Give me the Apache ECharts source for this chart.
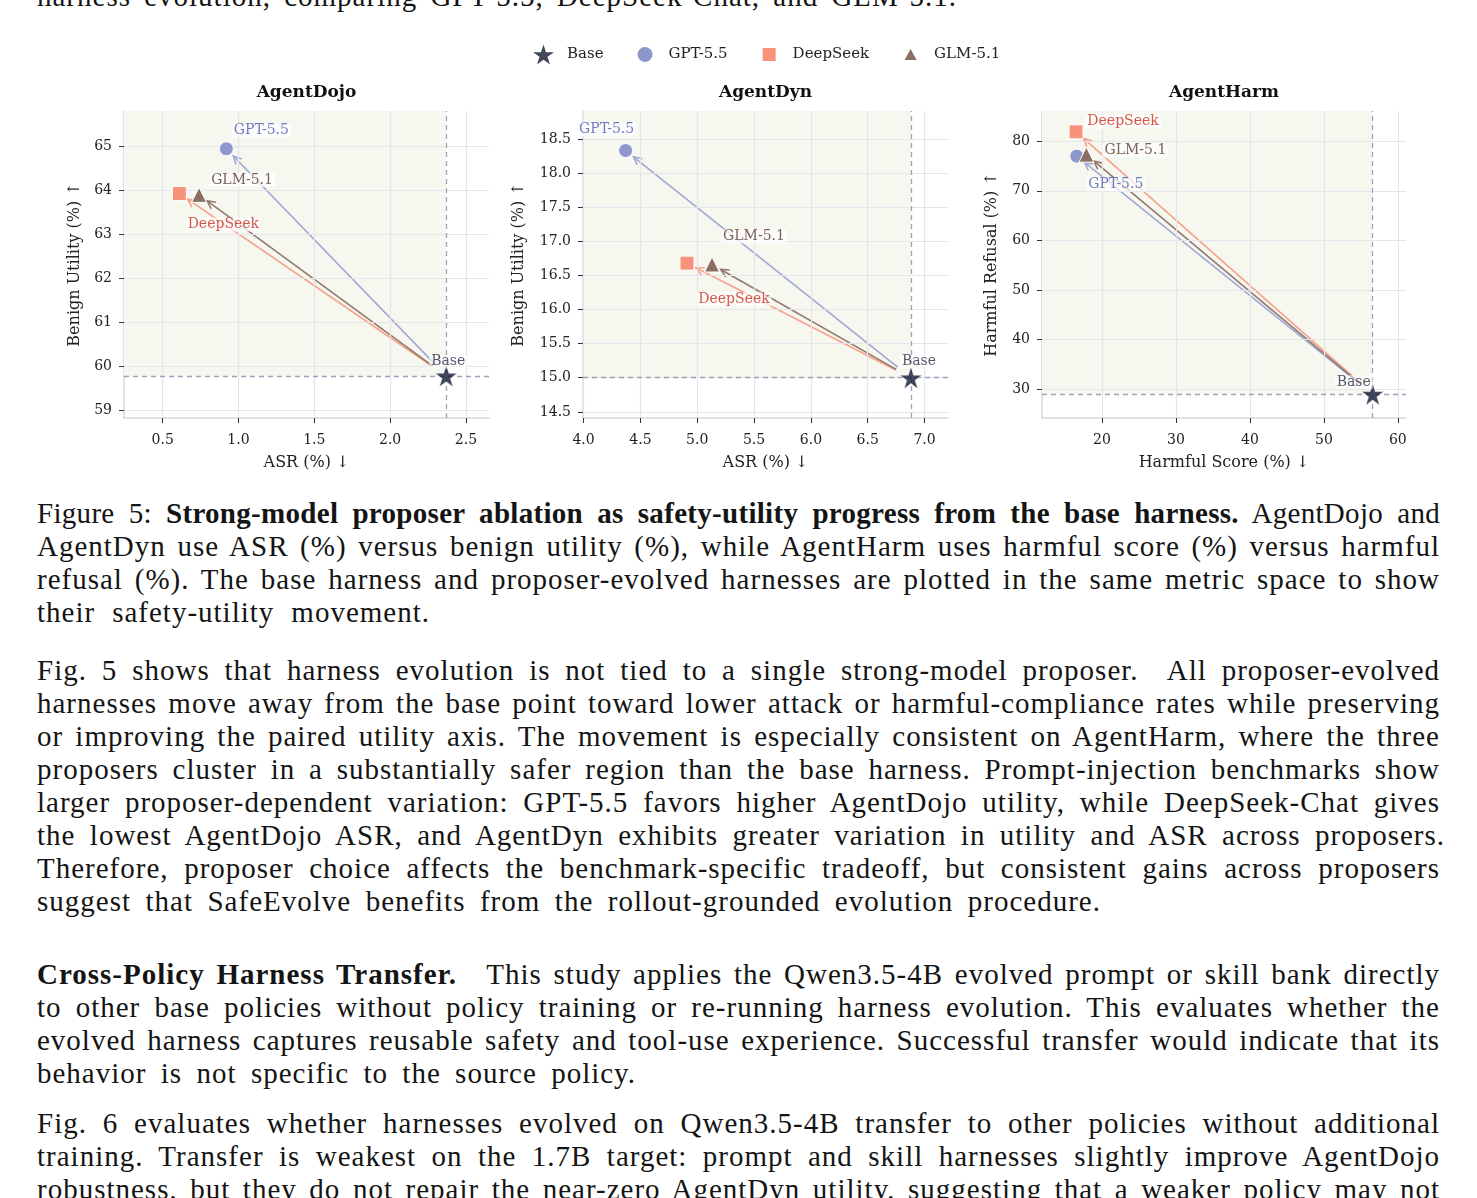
<!DOCTYPE html>
<html>
<head>
<meta charset="utf-8">
<script src="https://cdn.jsdelivr.net/npm/echarts@6/dist/echarts.min.js"></script>
<style>
html,body{margin:0;padding:0;background:#fff;width:1477px;height:1198px;overflow:hidden;position:relative;}
#chart{position:absolute;left:0;top:0;width:1477px;height:490px;}
.ln{position:absolute;left:37px;width:1403px;font-family:"Liberation Serif","Times New Roman",serif;font-size:29px;letter-spacing:1px;line-height:33px;height:33px;text-align:justify;text-align-last:justify;color:#141414;overflow:visible;}
.sp{display:inline-block;width:18px;}
</style>
</head>
<body>
<div class="ln" style="top:-20px;width:920px;">harness evolution, comparing GPT-5.5, DeepSeek-Chat, and GLM-5.1.</div>
<div id="chart"></div>

<div class="ln" style="top:497px;letter-spacing:0.3px;">Figure 5: <b>Strong-model proposer ablation as safety-utility progress from the base harness.</b> AgentDojo and</div>
<div class="ln" style="top:530px;">AgentDyn use ASR (%) versus benign utility (%), while AgentHarm uses harmful score (%) versus harmful</div>
<div class="ln" style="top:563px;">refusal (%). The base harness and proposer-evolved harnesses are plotted in the same metric space to show</div>
<div class="ln" style="top:596px;width:393px;">their safety-utility movement.</div>

<div class="ln" style="top:654px;">Fig. 5 shows that harness evolution is not tied to a single strong-model proposer.&nbsp; All proposer-evolved</div>
<div class="ln" style="top:687px;">harnesses move away from the base point toward lower attack or harmful-compliance rates while preserving</div>
<div class="ln" style="top:720px;">or improving the paired utility axis. The movement is especially consistent on AgentHarm, where the three</div>
<div class="ln" style="top:753px;">proposers cluster in a substantially safer region than the base harness. Prompt-injection benchmarks show</div>
<div class="ln" style="top:786px;">larger proposer-dependent variation: GPT-5.5 favors higher AgentDojo utility, while DeepSeek-Chat gives</div>
<div class="ln" style="top:819px;width:1408px;">the lowest AgentDojo ASR, and AgentDyn exhibits greater variation in utility and ASR across proposers.</div>
<div class="ln" style="top:852px;">Therefore, proposer choice affects the benchmark-specific tradeoff, but consistent gains across proposers</div>
<div class="ln" style="top:885px;width:1064px;">suggest that SafeEvolve benefits from the rollout-grounded evolution procedure.</div>

<div class="ln" style="top:958px;"><b>Cross-Policy Harness Transfer.</b><span class="sp"></span> This study applies the Qwen3.5-4B evolved prompt or skill bank directly</div>
<div class="ln" style="top:991px;">to other base policies without policy training or re-running harness evolution. This evaluates whether the</div>
<div class="ln" style="top:1024px;">evolved harness captures reusable safety and tool-use experience. Successful transfer would indicate that its</div>
<div class="ln" style="top:1057px;width:599px;">behavior is not specific to the source policy.</div>

<div class="ln" style="top:1107px;">Fig. 6 evaluates whether harnesses evolved on Qwen3.5-4B transfer to other policies without additional</div>
<div class="ln" style="top:1140px;">training. Transfer is weakest on the 1.7B target: prompt and skill harnesses slightly improve AgentDojo</div>
<div class="ln" style="top:1173px;">robustness, but they do not repair the near-zero AgentDyn utility, suggesting that a weaker policy may not</div>

<script>
// ---------------- DATA ----------------
const benchmarks = ['AgentDojo', 'AgentDyn', 'AgentHarm'];
const proposers = ['GPT-5.5', 'DeepSeek', 'GLM-5.1'];
const legendNames = ['Base', 'GPT-5.5', 'DeepSeek', 'GLM-5.1'];
const xAxisNames = ['ASR (%) \u2193', 'ASR (%) \u2193', 'Harmful Score (%) \u2193'];
const yAxisNames = ['Benign Utility (%) \u2191', 'Benign Utility (%) \u2191', 'Harmful Refusal (%) \u2191'];

const baseX = [2.37, 6.88, 56.6];
const baseY = [59.78, 15.0, 29.0];
const gptX = [0.92, 4.37, 16.6];
const gptY = [64.95, 18.33, 77.0];
const deepseekX = [0.61, 4.91, 16.5];
const deepseekY = [63.93, 16.68, 81.9];
const glmX = [0.74, 5.13, 17.9];
const glmY = [63.90, 16.66, 77.3];

const xMin = [0.245, 3.995, 11.9];
const xMax = [2.652, 7.206, 61.1];
const yMin = [58.82, 14.41, 24.2];
const yMax = [65.81, 18.91, 86.1];

const xTicks = [[0.5, 1.0, 1.5, 2.0, 2.5], [4.0, 4.5, 5.0, 5.5, 6.0, 6.5, 7.0], [20, 30, 40, 50, 60]];
const yTicks = [[59, 60, 61, 62, 63, 64, 65], [14.5, 15.0, 15.5, 16.0, 16.5, 17.0, 17.5, 18.0, 18.5], [30, 40, 50, 60, 70, 80]];
const xDec = [1, 1, 0];
const yDec = [0, 1, 0];

// ---------------- STYLE ----------------
const FONT = 'DejaVu Serif';
const markerColor = {'GPT-5.5': '#8e97cc', 'DeepSeek': '#f7937b', 'GLM-5.1': '#8b6e62', 'Base': '#131a32'};
const arrowColor = {'GPT-5.5': '#a0a8d8', 'DeepSeek': '#f6a18b', 'GLM-5.1': '#927970'};
const labelColor = {'GPT-5.5': '#6f7bc0', 'DeepSeek': '#d4574b', 'GLM-5.1': '#7b6057', 'Base': '#2b2f47'};
const symbolOf = {'GPT-5.5': 'circle', 'DeepSeek': 'rect', 'GLM-5.1': 'triangle'};
const sizeOf = {'GPT-5.5': 14, 'DeepSeek': 14, 'GLM-5.1': 15};
const STAR = 'path://M0,-10 L2.245,-3.09 L9.511,-3.09 L3.633,1.18 L5.878,8.09 L0,3.82 L-5.878,8.09 L-3.633,1.18 L-9.511,-3.09 L-2.245,-3.09 Z';
// legend icons padded inside a 21px box (first two moves define the box)
const legendIcon = {
  'Base': STAR,
  'GPT-5.5': 'path://M-10.5,-10.5 L-10.5,-10.5 M10.5,10.5 L10.5,10.5 M7.5,0 A7.5,7.5 0 1 1 -7.5,0 A7.5,7.5 0 1 1 7.5,0 Z',
  'DeepSeek': 'path://M-10.5,-10.5 L-10.5,-10.5 M10.5,10.5 L10.5,10.5 M-6.5,-6.5 L6.5,-6.5 L6.5,6.5 L-6.5,6.5 Z',
  'GLM-5.1': 'path://M-10.5,-10.5 L-10.5,-10.5 M10.5,10.5 L10.5,10.5 M0,-5.5 L6,5.5 L-6,5.5 Z'
};

// label offsets (pixels) per panel
const labelOffsets = [
  {'GPT-5.5': [35, -18], 'DeepSeek': [44, 31], 'GLM-5.1': [43, -15], 'Base': [2, -14]},
  {'GPT-5.5': [-19, -21], 'DeepSeek': [47, 36], 'GLM-5.1': [42, -28], 'Base': [8, -16]},
  {'GPT-5.5': [39, 28], 'DeepSeek': [47, -10], 'GLM-5.1': [49, -4], 'Base': [-19, -12]}
];
const gridBoxes = [
  {left: 124, top: 111, width: 365, height: 307},
  {left: 583, top: 111, width: 365, height: 307},
  {left: 1042, top: 111, width: 364, height: 307}
];
const yNameGap = [41, 56, 42];

const pointsX = {'GPT-5.5': gptX, 'DeepSeek': deepseekX, 'GLM-5.1': glmX};
const pointsY = {'GPT-5.5': gptY, 'DeepSeek': deepseekY, 'GLM-5.1': glmY};

const chart = echarts.init(document.getElementById('chart'), null, {renderer: 'canvas'});

const grids = [], xAxes = [], yAxes = [], titles = [], series = [];

benchmarks.forEach((b, i) => {
  const g = gridBoxes[i];
  grids.push({left: g.left, top: g.top, width: g.width, height: g.height, containLabel: false});
  titles.push({
    text: b, left: g.left + g.width / 2, top: 84, textAlign: 'center', padding: 0,
    textStyle: {fontFamily: FONT, fontWeight: 'bold', fontSize: 17, color: '#111'}
  });
  xAxes.push({
    type: 'value', gridIndex: i, min: xMin[i], max: xMax[i],
    name: xAxisNames[i], nameLocation: 'middle', nameGap: 37,
    nameTextStyle: {fontFamily: FONT, fontSize: 16, color: '#222'},
    axisLine: {show: true, onZero: false, lineStyle: {color: '#d6d8e1', width: 1.5}},
    axisTick: {show: true, customValues: xTicks[i], length: 5, lineStyle: {color: '#333', width: 1}},
    axisLabel: {customValues: xTicks[i], margin: 15, fontFamily: FONT, fontSize: 14, color: '#222',
      formatter: v => Number(v).toFixed(xDec[i])},
    splitLine: {show: false}
  });
  yAxes.push({
    type: 'value', gridIndex: i, min: yMin[i], max: yMax[i],
    name: yAxisNames[i], nameLocation: 'middle', nameGap: yNameGap[i], nameRotate: 90,
    nameTextStyle: {fontFamily: FONT, fontSize: 16, color: '#222'},
    axisLine: {show: true, onZero: false, lineStyle: {color: '#d6d8e1', width: 1.5}},
    axisTick: {show: true, customValues: yTicks[i], length: 5, lineStyle: {color: '#333', width: 1}},
    axisLabel: {customValues: yTicks[i], margin: 12, fontFamily: FONT, fontSize: 14, color: '#222',
      formatter: v => Number(v).toFixed(yDec[i])},
    splitLine: {show: false}
  });

  // shaded "better" region
  series.push({
    type: 'scatter', xAxisIndex: i, yAxisIndex: i, data: [[baseX[i], baseY[i]]], symbolSize: 0, silent: true, z: 1,
    markArea: {silent: true, itemStyle: {color: '#f6f7ee'},
      data: [[{xAxis: xMin[i], yAxis: baseY[i]}, {xAxis: baseX[i], yAxis: yMax[i]}]]}
  });
  // grid lines
  series.push({
    type: 'scatter', xAxisIndex: i, yAxisIndex: i, data: [[baseX[i], baseY[i]]], symbolSize: 0, silent: true, z: 2,
    markLine: {silent: true, symbol: ['none', 'none'], animation: false, label: {show: false},
      lineStyle: {color: '#e3e4ec', width: 1.2, type: 'solid'},
      data: xTicks[i].map(v => ({xAxis: v})).concat(yTicks[i].map(v => ({yAxis: v})))}
  });
  // dashed base reference lines
  series.push({
    type: 'scatter', xAxisIndex: i, yAxisIndex: i, data: [[baseX[i], baseY[i]]], symbolSize: 0, silent: true, z: 3,
    markLine: {silent: true, symbol: ['none', 'none'], animation: false, label: {show: false},
      lineStyle: {color: '#9da2b6', width: 1.3, type: [5, 4]},
      data: [{xAxis: baseX[i]}, {yAxis: baseY[i]}]}
  });
  // arrows from base to proposers
  series.push({
    type: 'custom', xAxisIndex: i, yAxisIndex: i, z: 4, silent: true,
    encode: {x: [0, 2], y: [1, 3]},
    data: proposers.map(p => [baseX[i], baseY[i], pointsX[p][i], pointsY[p][i]]),
    renderItem: function (params, api) {
      const p = proposers[params.dataIndex];
      const p0 = api.coord([api.value(0), api.value(1)]);
      const p1 = api.coord([api.value(2), api.value(3)]);
      const dx = p1[0] - p0[0], dy = p1[1] - p0[1];
      const L = Math.hypot(dx, dy);
      const ux = dx / L, uy = dy / L;
      const sA = 17, sB = 10, hl = 8, hw = 4;
      const s = [p0[0] + ux * sA, p0[1] + uy * sA];
      const e = [p1[0] - ux * sB, p1[1] - uy * sB];
      const a1 = [e[0] - ux * hl - uy * hw, e[1] - uy * hl + ux * hw];
      const a2 = [e[0] - ux * hl + uy * hw, e[1] - uy * hl - ux * hw];
      const col = arrowColor[p];
      return {
        type: 'group', children: [
          {type: 'line', shape: {x1: s[0], y1: s[1], x2: e[0], y2: e[1]}, style: {stroke: col, lineWidth: 1.6}},
          {type: 'polyline', shape: {points: [a1, e, a2]}, style: {stroke: col, lineWidth: 1.6, fill: null}}
        ]
      };
    }
  });
  // proposer markers
  proposers.forEach((p, k) => {
    series.push({
      type: 'scatter', name: p, xAxisIndex: i, yAxisIndex: i, z: 5 + k,
      symbol: symbolOf[p], symbolSize: sizeOf[p],
      itemStyle: {color: markerColor[p], borderColor: '#ffffff', borderWidth: 1, opacity: 1},
      label: {show: true, position: 'inside', offset: labelOffsets[i][p], formatter: p,
        fontFamily: FONT, fontSize: 14, color: labelColor[p],
        backgroundColor: 'rgba(255,255,255,0.7)', padding: [0, 2]},
      data: [[pointsX[p][i], pointsY[p][i]]]
    });
  });
  // base marker
  series.push({
    type: 'scatter', name: 'Base', xAxisIndex: i, yAxisIndex: i, z: 9,
    symbol: STAR, symbolSize: 22,
    itemStyle: {color: markerColor['Base'], borderColor: '#ffffff', borderWidth: 0.6},
    label: {show: true, position: 'inside', offset: labelOffsets[i]['Base'], formatter: 'Base',
      fontFamily: FONT, fontSize: 14, color: labelColor['Base'],
      backgroundColor: 'rgba(255,255,255,0.7)', padding: [0, 2]},
    data: [[baseX[i], baseY[i]]]
  });
});

chart.setOption({
  animation: false,
  backgroundColor: 'transparent',
  title: titles,
  legend: {
    left: 533, top: 44, padding: 0, itemWidth: 21, itemHeight: 21, itemGap: 31,
    itemStyle: {borderWidth: 0},
    textStyle: {fontFamily: FONT, fontSize: 15, color: '#222', padding: [0, 0, 0, 8]},
    data: legendNames.map(n => ({name: n, icon: legendIcon[n]}))
  },
  grid: grids,
  xAxis: xAxes,
  yAxis: yAxes,
  series: series
});
</script>
</body>
</html>
